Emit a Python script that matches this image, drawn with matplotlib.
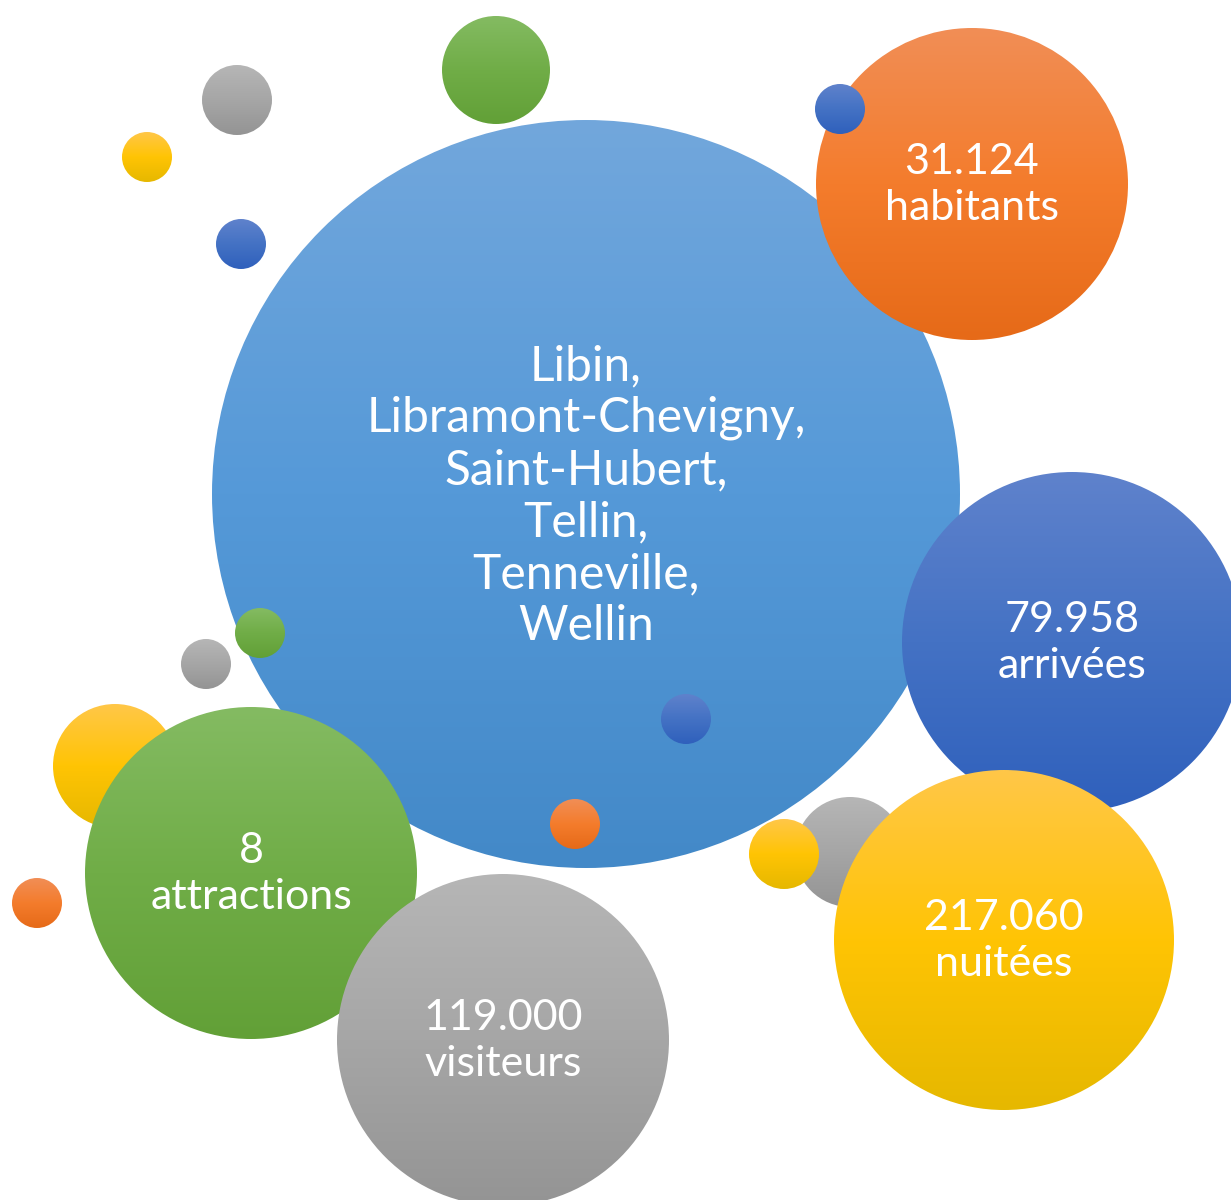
"""
Bubble infographic - Libin / Libramont / Saint-Hubert / Tellin / Tenneville / Wellin
"""
import numpy as np
import matplotlib
matplotlib.use('Agg')
import matplotlib.pyplot as plt
from matplotlib.patches import Circle
from matplotlib.colors import to_rgb

W, H = 1231, 1200

# Labels shown in the labelled bubbles
commune_names = ["Libin,", "Libramont-Chevigny,", "Saint-Hubert,",
                 "Tellin,", "Tenneville,", "Wellin"]
stat_values = ["31.124", "79.958", "217.060", "8", "119.000"]
stat_units = ["habitants", "arrivées", "nuitées", "attractions", "visiteurs"]

# Colour families: (top, middle, bottom) of the vertical gradient
PALETTE = {
    "blue":   ("#72a7dc", "#5599d8", "#4389c8"),
    "navy":   ("#5f82cc", "#4472c4", "#2f60bc"),
    "orange": ("#f18e56", "#f47c2c", "#e66a18"),
    "yellow": ("#ffc748", "#ffc404", "#e6b800"),
    "gray":   ("#b6b6b6", "#a6a6a6", "#949494"),
    "green":  ("#84bb62", "#70ad47", "#62a037"),
}

# Layout of the bubbles in pixel space (x, y, radius, colour), drawn in order
bubble_x = [115, 850, 586, 972, 840, 1072, 251, 503, 1004, 784,
            496, 237, 147, 241, 260, 206, 686, 575, 37]
bubble_y = [766, 852, 494, 184, 109, 642, 873, 1040, 940, 854,
            70, 100, 157, 244, 633, 664, 719, 824, 903]
bubble_r = [62, 55, 374, 156, 25, 170, 166, 166, 170, 35,
            54, 35, 25, 25, 25, 25, 25, 25, 25]
bubble_c = ["yellow", "gray", "blue", "orange", "navy", "navy", "green", "gray", "yellow", "yellow",
            "green", "gray", "yellow", "navy", "green", "gray", "navy", "orange", "orange"]

# Label anchors: main bubble index for each stat
stat_bubble = [3, 5, 8, 6, 7]

plt.rcParams['font.family'] = ['Lato', 'DejaVu Sans']

fig = plt.figure(figsize=(W / 100, H / 100), dpi=100)
ax = fig.add_axes([0, 0, 1, 1])
ax.set_xlim(0, W)
ax.set_ylim(H, 0)
ax.set_aspect('equal')
ax.axis('off')


def gradient_circle(x, y, r, family, z):
    top, mid, bot = [np.array(to_rgb(c)) for c in PALETTE[family]]
    t = np.linspace(0, 1, 256)[:, None]
    grad = np.where(t < 0.5, top + (mid - top) * (t / 0.5),
                    mid + (bot - mid) * ((t - 0.5) / 0.5))
    img = grad[:, None, :] * np.ones((1, 2, 1))
    circ = Circle((x, y), r, facecolor='none', edgecolor='none', zorder=z)
    ax.add_patch(circ)
    im = ax.imshow(img, extent=[x - r, x + r, y + r, y - r], origin='upper',
                   interpolation='bilinear', zorder=z, aspect='auto')
    im.set_clip_path(circ)


for i, (x, y, r, c) in enumerate(zip(bubble_x, bubble_y, bubble_r, bubble_c)):
    gradient_circle(x, y, r, c, z=i + 1)

ax.set_xlim(0, W)
ax.set_ylim(H, 0)

# Main label
ax.text(586, 496, "\n".join(commune_names), ha='center', va='center',
        color='white', fontsize=34.5, linespacing=1.22, zorder=50)

# Stat labels
for val, unit, bi in zip(stat_values, stat_units, stat_bubble):
    ax.text(bubble_x[bi], bubble_y[bi] + 1, f"{val}\n{unit}", ha='center', va='center',
            color='white', fontsize=31, linespacing=1.26, zorder=50)

plt.savefig("out.png", dpi=100)
